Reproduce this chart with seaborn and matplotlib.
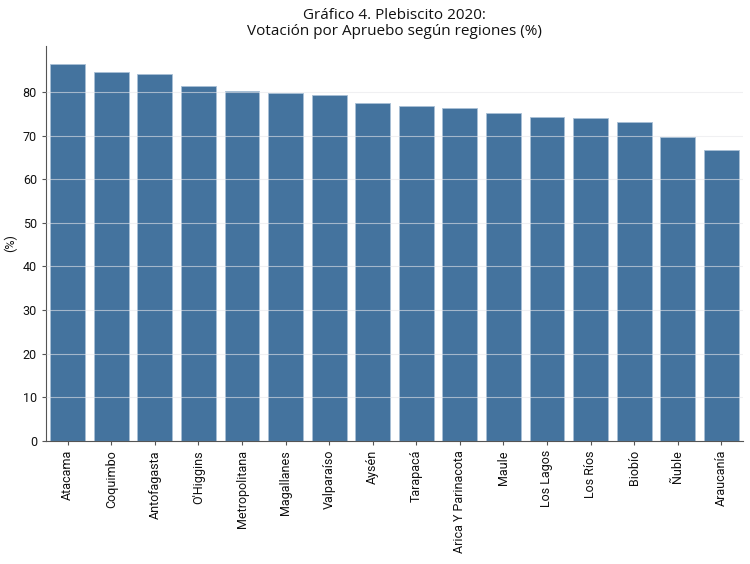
import matplotlib
matplotlib.use("Agg")
import matplotlib.pyplot as plt
import seaborn as sns
import pandas as pd

regiones = ["Atacama", "Coquimbo", "Antofagasta", "O'Higgins", "Metropolitana",
            "Magallanes", "Valparaíso", "Aysén", "Tarapacá", "Arica Y Parinacota",
            "Maule", "Los Lagos", "Los Ríos", "Biobío", "Ñuble", "Araucanía"]
apruebo = [86.3, 84.6, 84.1, 81.3, 80.1, 79.8, 79.3, 77.5, 76.8, 76.3,
           75.1, 74.3, 74.0, 73.1, 69.7, 66.7]

df = pd.DataFrame({"region": regiones, "apruebo": apruebo})

sns.set_style("white")
plt.rcParams["font.family"] = ["Roboto", "DejaVu Sans"]
plt.rcParams["text.color"] = "#111111"
plt.rcParams["axes.labelcolor"] = "#111111"
plt.rcParams["xtick.color"] = "#111111"
plt.rcParams["ytick.color"] = "#111111"

fig = plt.figure(figsize=(7.5, 5.64), dpi=100)
ax = fig.add_axes([0.0613, 0.218, 0.9294, 0.7004])

sns.barplot(data=df, x="region", y="apruebo", color="#44739e", saturation=1,
            edgecolor="#a9c0d6", linewidth=0.6, width=0.8, ax=ax, zorder=2)

ax.set_ylim(0, 90.5)
ax.set_yticks(range(0, 90, 10))
ax.yaxis.grid(True, color="#e6e6ea", linewidth=0.8, alpha=0.6, zorder=3)
ax.set_axisbelow(False)
for sp in ["top", "right"]:
    ax.spines[sp].set_visible(False)
for sp in ["left", "bottom"]:
    ax.spines[sp].set_color("#555555")
    ax.spines[sp].set_linewidth(0.8)

ax.tick_params(axis="x", rotation=90, labelsize=9, length=3, color="#555555", bottom=True)
ax.tick_params(axis="y", labelsize=9, length=3, color="#555555", left=True)
ax.set_xlabel("")
ax.set_ylabel("(%)", fontsize=9)
ax.set_title("Gráfico 4. Plebiscito 2020:\nVotación por Apruebo según regiones (%)",
             fontsize=11, family=["Open Sans", "DejaVu Sans"], linespacing=1.05, pad=8)

fig.savefig("out.png", dpi=100)
